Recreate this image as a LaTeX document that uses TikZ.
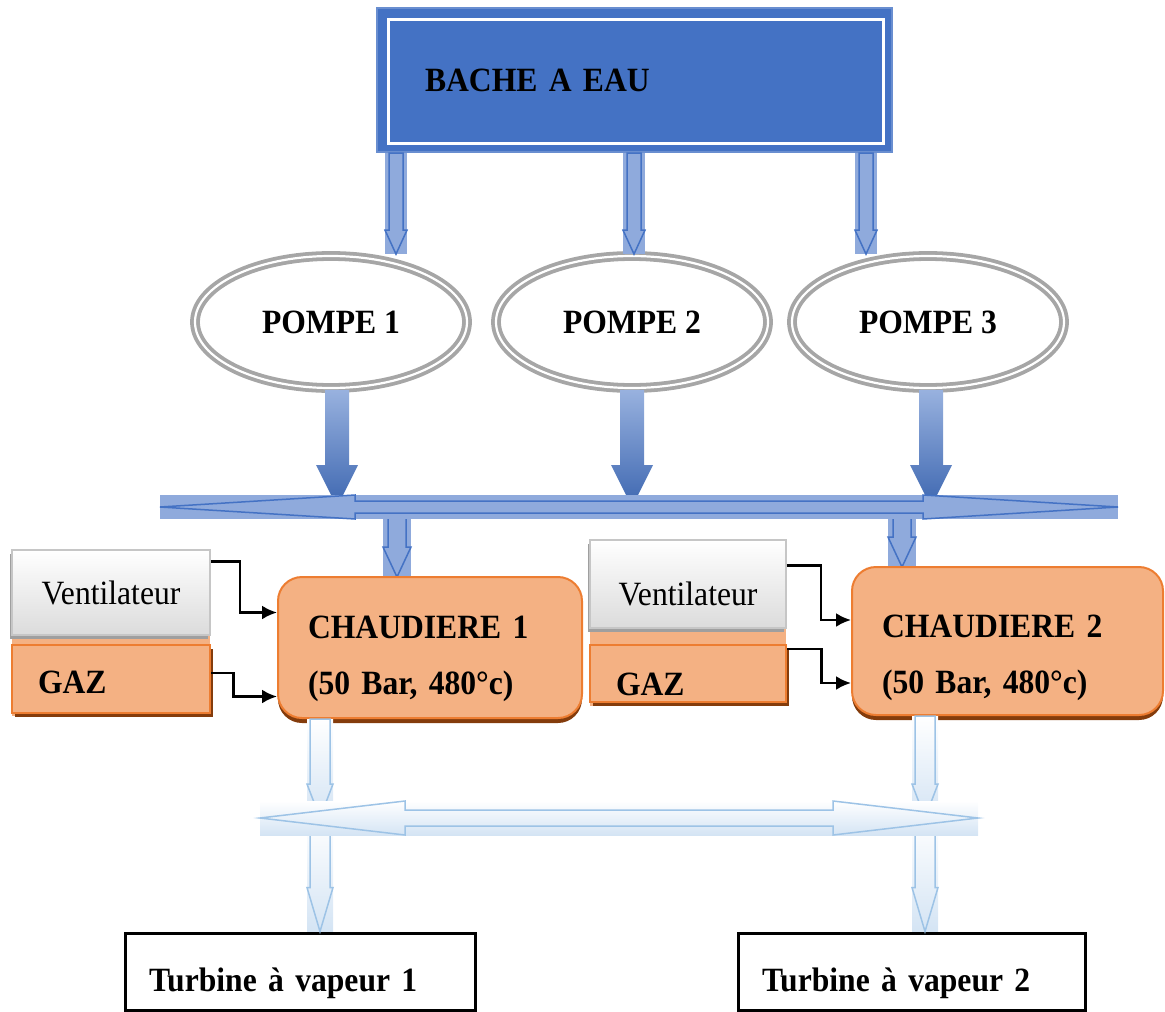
\documentclass[tikz,border=0pt]{standalone}
\usepackage{fontspec}
\setmainfont{Liberation Serif}[FakeStretch=0.93]
\usetikzlibrary{shapes.geometric,shadows,calc,arrows.meta}
\definecolor{bacheblue}{HTML}{4472C4}
\definecolor{pipeblue}{HTML}{8FAADC}
\definecolor{steamblue}{HTML}{9DC3E6}
\definecolor{steamfill}{HTML}{D4E4F4}
\definecolor{chaudfill}{HTML}{F4B183}
\definecolor{chauddraw}{HTML}{ED7D31}
\definecolor{chaudshadow}{HTML}{843C0C}
\definecolor{pompegray}{HTML}{A6A6A6}

\tikzset{
  boldtext/.style={font=\fontsize{34}{40}\selectfont\bfseries},
  bache/.style={rectangle, draw=bacheblue!80!white, line width=2pt, fill=bacheblue,
    minimum width=515pt, minimum height=144pt, text width=419pt, inner xsep=48pt,
    align=left, boldtext},
  pompe/.style={ellipse, draw=pompegray, line width=3.8pt, double=white, double distance=2.2pt,
    minimum width=272pt, minimum height=132pt, boldtext},
  venti/.style={rectangle, draw=gray!45, line width=1.5pt, top color=white, bottom color=gray!28,
    minimum width=198pt, minimum height=85pt, font=\fontsize{34}{40}\selectfont,
    drop shadow={shadow xshift=-2pt, shadow yshift=-4pt, fill=gray!75, opacity=1}},
  gaz/.style={rectangle, draw=chauddraw, line width=2.5pt, fill=chaudfill,
    text width=146pt, inner xsep=26pt, minimum height=68pt, align=left, boldtext,
    drop shadow={shadow xshift=3pt, shadow yshift=-4pt, fill=chaudshadow, opacity=1}},
  chaud/.style={rectangle, rounded corners=24pt, draw=chauddraw, line width=2pt, fill=chaudfill,
    inner xsep=30pt, align=left, font=\fontsize{34}{56}\selectfont\bfseries,
    drop shadow={shadow xshift=0pt, shadow yshift=-5pt, fill=chaudshadow, opacity=1}},
  turbine/.style={rectangle, draw=black, line width=3pt, minimum height=77pt,
    inner xsep=24pt, align=left, boldtext, text height=47pt},
  feed/.style={draw=black, line width=2.5pt, -{Latex[length=15pt,width=14pt]}},
  pipe back/.style={fill=pipeblue},
  pipe arrow/.style={draw=bacheblue, line width=1.5pt, fill=pipeblue},
  pump back/.style={},
  pump arrow/.style={top color=bacheblue!55, bottom color=bacheblue!90!black},
  steam back/.style={top color=white, bottom color=steamfill},
  steam arrow/.style={draw=steamblue, line width=1.5pt, top color=white, bottom color=steamfill},
}

% down block arrow: #1 family, #2 from, #3 to, #4 half shaft, #5 half head, #6 head length
\newcommand{\flowdown}[6]{%
  \path[#1 back] let \p1=(#2), \p2=(#3) in (\x1-#5,\y1) rectangle (\x1+#5,\y2);
  \path[#1 arrow] let \p1=(#2), \p2=(#3) in
    (\x1-#4,\y1) -- (\x1-#4,\y2+#6) -- (\x1-#5,\y2+#6) -- (\x1,\y2)
    -- (\x1+#5,\y2+#6) -- (\x1+#4,\y2+#6) -- (\x1+#4,\y1) -- cycle;}
% double headed collector: same arguments, from left end to right end
\newcommand{\flowboth}[6]{%
  \path[#1 back] let \p1=(#2), \p2=(#3) in (\x1,\y1-#5) rectangle (\x2,\y1+#5);
  \path[#1 arrow] let \p1=(#2), \p2=(#3) in
    (\x1,\y1) -- (\x1+#6,\y1+#5) -- (\x1+#6,\y1+#4) -- (\x2-#6,\y1+#4) -- (\x2-#6,\y1+#5)
    -- (\x2,\y1) -- (\x2-#6,\y1-#5) -- (\x2-#6,\y1-#4) -- (\x1+#6,\y1-#4) -- (\x1+#6,\y1-#5) -- cycle;}

\begin{document}
\begin{tikzpicture}[x=1pt,y=-1pt]
\useasboundingbox (0,0) rectangle (1165,1012);

% x positions of the flow lines
\coordinate (t1) at (396,0);
\coordinate (t2) at (634,0);
\coordinate (t3) at (866,0);
\coordinate (d1) at (397,0);
\coordinate (d2) at (902,0);
\coordinate (s1) at (320,0);
\coordinate (s2) at (925,0);
% collectors
\coordinate (busL) at (160,507);
\coordinate (busR) at (1118,507);
\coordinate (vapL) at (260,818);
\coordinate (vapR) at (978,818);

\node[bache] (bache) at (634.5,80) {BACHE A EAU};
\draw[white, line width=3pt] ([shift={(12,12)}]bache.north west) rectangle ([shift={(-10,-10)}]bache.south east);

\node[pompe] (pompe1) at (331,322) {POMPE 1};
\node[pompe] (pompe2) at (632,322) {POMPE 2};
\node[pompe] (pompe3) at (928,322) {POMPE 3};

\flowdown{pipe}{bache.south -| t1}{t1 |- pompe1.north}{7pt}{11pt}{24pt}
\flowdown{pipe}{bache.south -| t2}{t2 |- pompe2.north}{7pt}{11pt}{24pt}
\flowdown{pipe}{bache.south -| t3}{t3 |- pompe3.north}{7pt}{11pt}{24pt}

\flowdown{pump}{[xshift=6pt]pompe1.south}{[xshift=6pt]pompe1.south |- busL}{12pt}{21pt}{42pt}
\flowdown{pump}{pompe2.south}{pompe2.south |- busL}{12pt}{21pt}{42pt}
\flowdown{pump}{[xshift=3pt]pompe3.south}{[xshift=3pt]pompe3.south |- busL}{12pt}{21pt}{42pt}

% feed water collector
\flowdown{pipe}{d1 |- busL}{d1 |- 0,577}{9pt}{14pt}{30pt}
\flowdown{pipe}{d2 |- busL}{d2 |- 0,567}{9pt}{14pt}{30pt}
\flowboth{pipe}{busL}{busR}{6pt}{12pt}{195pt}

% boilers
\fill[chaudfill] (12,632) rectangle (210,716);
\fill[chaudfill] (590,626) rectangle (786,706);
\node[venti] (vent1) at (111,592.5) {Ventilateur};
\node[gaz, text height=30pt] (gaz1) at (111,679) {GAZ};
\node[chaud, minimum width=304pt, text width=244pt, minimum height=141pt, text height=45pt] (chaud1) at (430,647.5) {CHAUDIERE 1\\(50 Bar, 480°c)};

\node[venti, minimum width=196pt, minimum height=88pt, text height=43pt] (vent2) at (688,584) {Ventilateur};
\node[gaz, text width=144pt, minimum height=57pt, text height=44pt] (gaz2) at (688,673.5) {GAZ};
\node[chaud, minimum width=311pt, text width=251pt, minimum height=148pt, text height=57pt] (chaud2) at (1007.5,641) {CHAUDIERE 2\\(50 Bar, 480°c)};

\draw[feed] ([yshift=-12pt]vent1.north east) -- ++(29,0) |- ([yshift=35pt]chaud1.west);
\draw[feed] ([yshift=6pt]gaz1.east) -- ++(22,0) |- ([yshift=-49pt]chaud1.west);
\draw[feed] ([yshift=-26pt]vent2.north east) -- ++(34,0) |- ([yshift=21pt]chaud2.west);
\draw[feed] ([yshift=-5pt]gaz2.north east) -- ++(34,0) |- ([yshift=-42pt]chaud2.west);

% steam collector
\node[turbine, minimum width=350pt, text width=302pt] (turb1) at (300,971.5) {Turbine à vapeur 1};
\node[turbine, minimum width=347pt, text width=299pt] (turb2) at (911.5,971.5) {Turbine à vapeur 2};

\flowdown{steam}{s1 |- chaud1.south}{s1 |- vapL}{10pt}{13pt}{34pt}
\flowdown{steam}{s2 |- chaud2.south}{s2 |- vapL}{10pt}{13pt}{34pt}
\flowdown{steam}{s1 |- vapL}{s1 |- turb1.north}{10pt}{13pt}{44pt}
\flowdown{steam}{s2 |- vapL}{s2 |- turb2.north}{10pt}{13pt}{44pt}
\flowboth{steam}{vapL}{vapR}{8pt}{17pt}{145pt}

\end{tikzpicture}
\end{document}
